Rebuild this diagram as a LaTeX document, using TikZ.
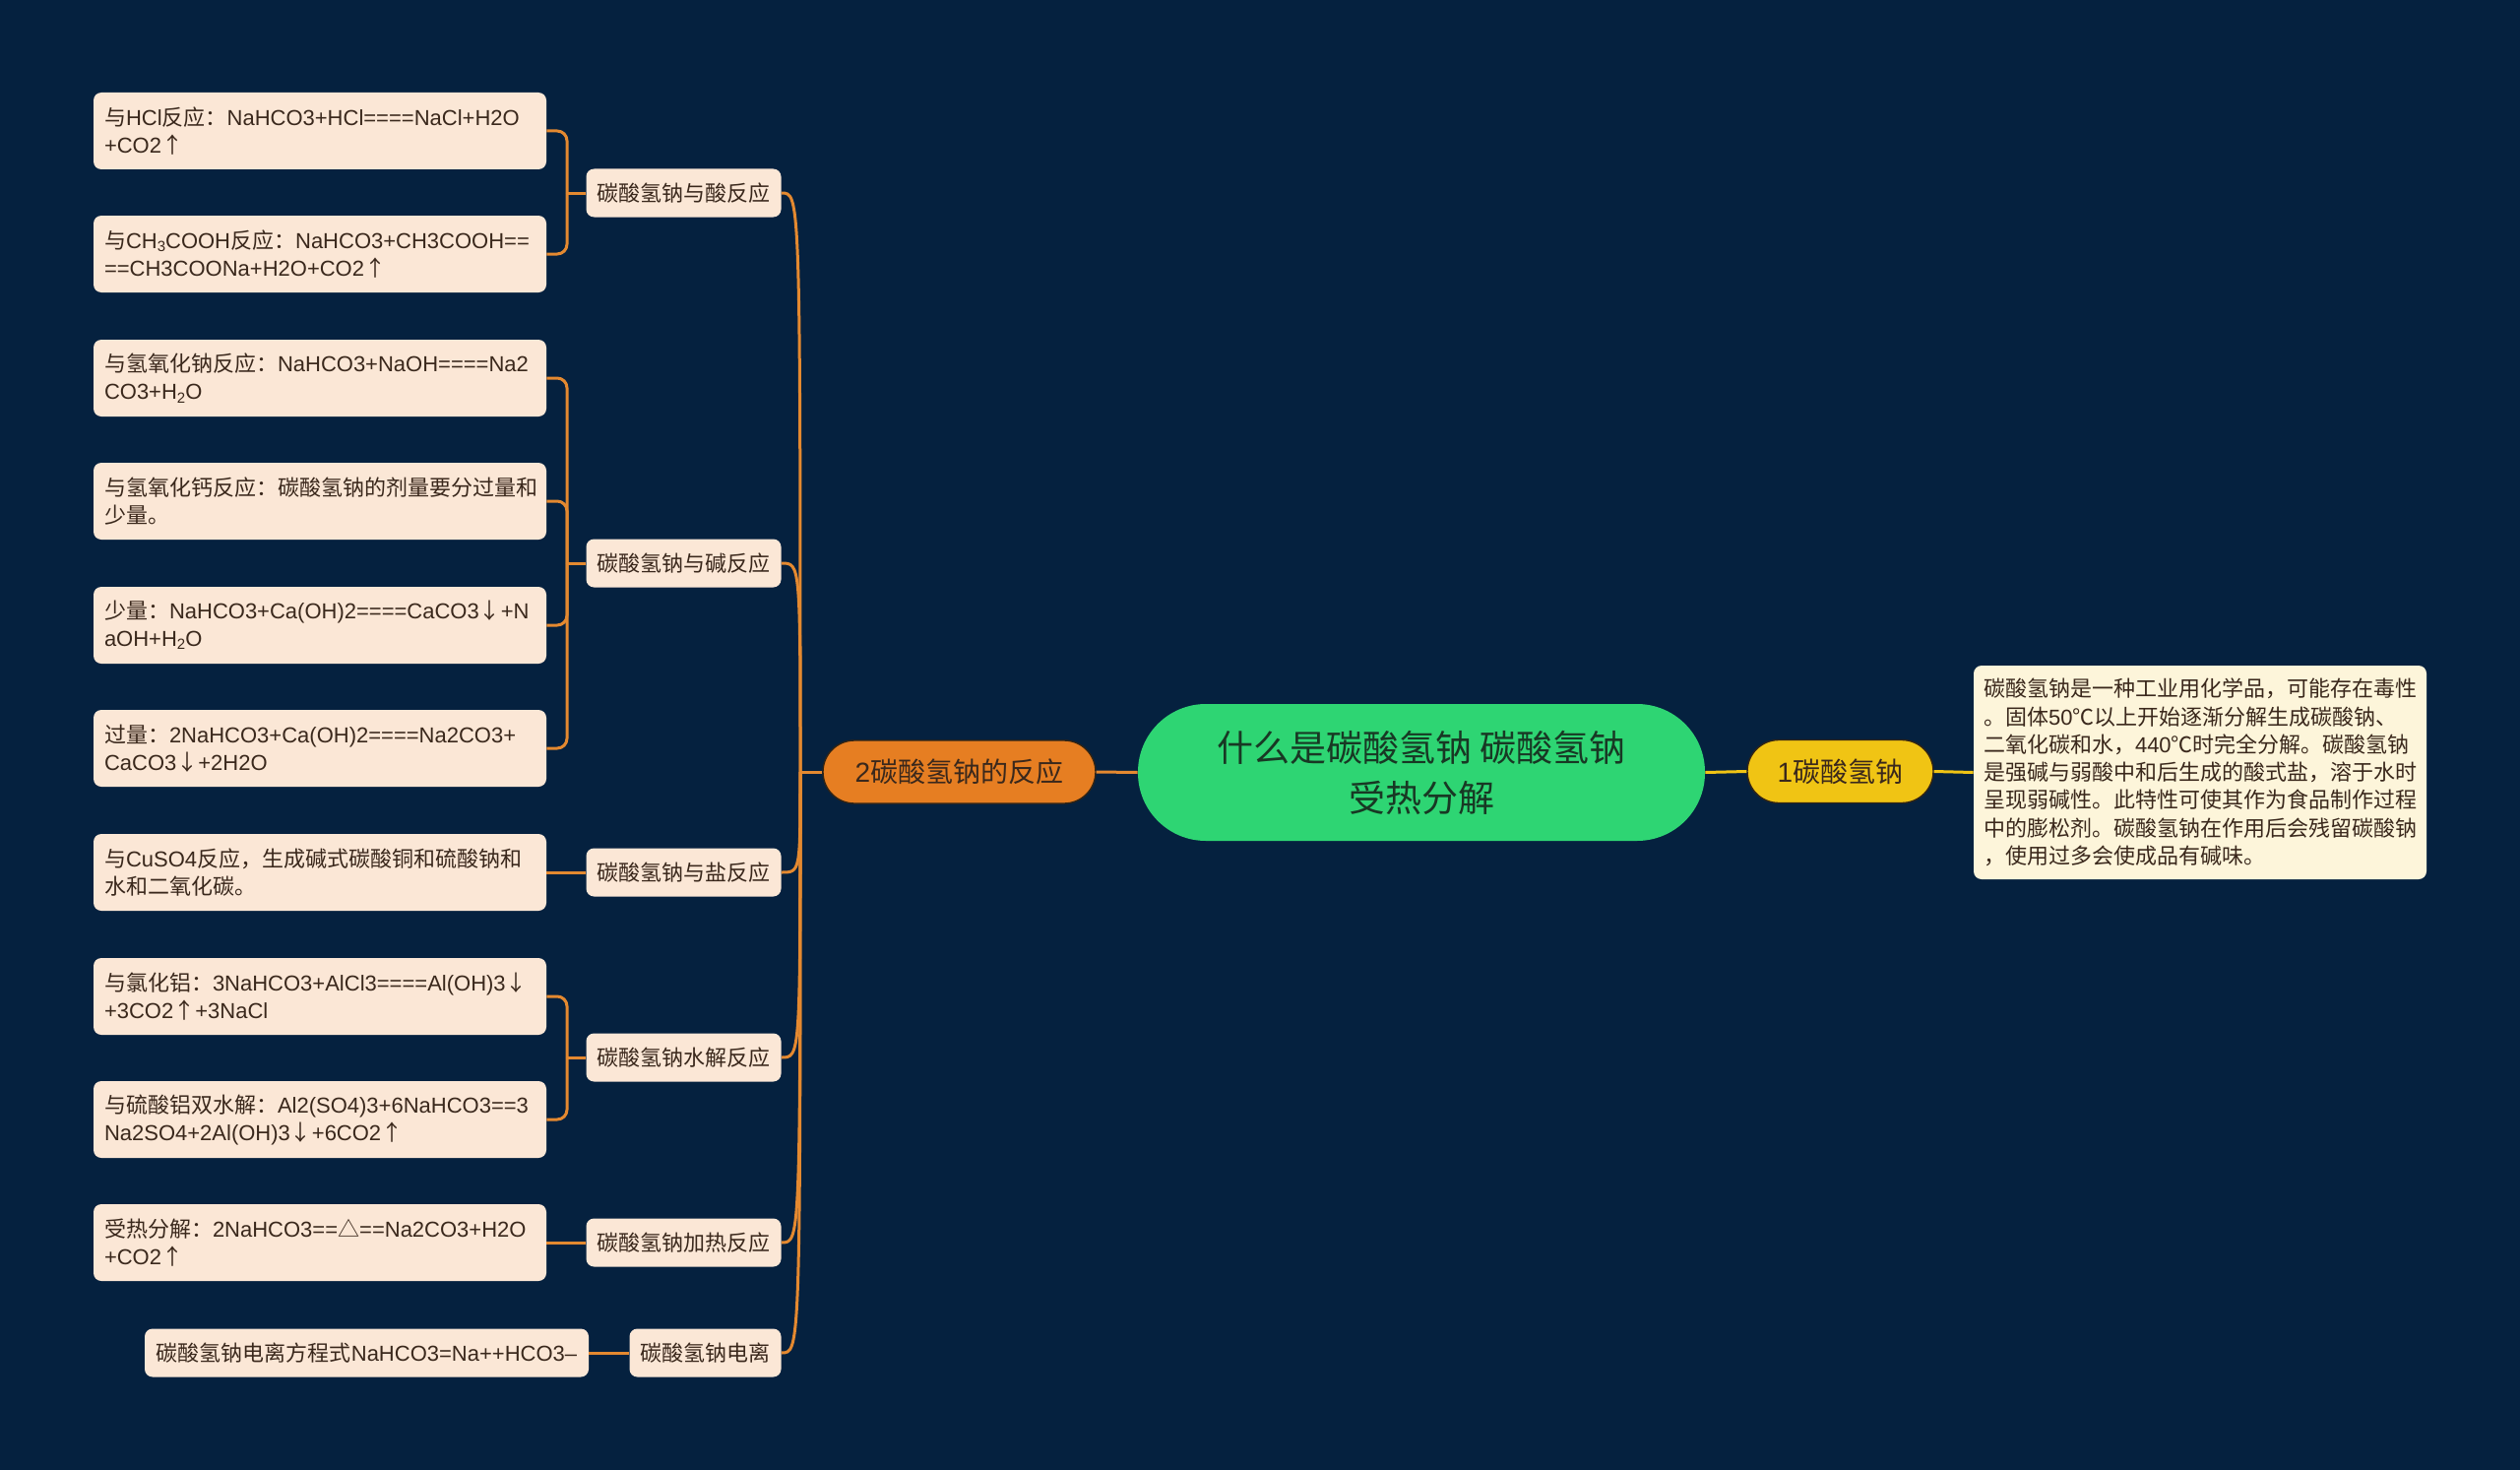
\documentclass[tikz,border=0pt]{standalone}
\usepackage{fontspec}
\setmainfont{Noto Sans CJK SC}
\newfontfamily\latinf{Liberation Sans}
\newfontfamily\cjkf{Noto Sans CJK SC}
\newXeTeXintercharclass\cjkcls
\newcount\mycnt
\def\setcjkrange#1#2{\mycnt=#1\relax\loop\XeTeXcharclass\mycnt=\cjkcls\relax\ifnum\mycnt<#2\relax\advance\mycnt by 1\relax\repeat}
\setcjkrange{"4E00}{"9FFF}
\setcjkrange{"3000}{"303F}
\setcjkrange{"FF00}{"FFEF}
\XeTeXcharclass"2103=\cjkcls
\XeTeXcharclass"2191=\cjkcls
\XeTeXcharclass"2193=\cjkcls
\XeTeXcharclass"25B3=\cjkcls
\XeTeXinterchartoks 0 \cjkcls = {\cjkf}
\XeTeXinterchartoks 4095 \cjkcls = {\cjkf}
\XeTeXinterchartoks \cjkcls 0 = {\latinf}
\XeTeXinterchartoks 4095 0 = {\latinf}
\XeTeXinterchartokenstate=1
\newcommand\mysub[1]{\raisebox{-0.3ex}{\fontsize{7.5}{8}\selectfont #1}}
\definecolor{bgc}{RGB}{5,33,63}
\definecolor{cgreen}{RGB}{46,213,115}
\definecolor{cgtext}{RGB}{24,56,36}
\definecolor{yelc}{RGB}{240,196,20}
\definecolor{orgc}{RGB}{230,126,34}
\definecolor{leafc}{RGB}{251,231,214}
\definecolor{boxc}{RGB}{253,245,218}
\definecolor{txtc}{RGB}{58,40,28}
\definecolor{olc}{RGB}{228,137,48}
\definecolor{ylc}{RGB}{240,196,20}
\definecolor{edgec}{RGB}{50,36,20}
\begin{document}
\begin{tikzpicture}[x=0.5pt,y=-0.5pt,
  central/.style={fill=cgreen, rounded corners=34.5pt, minimum width=288pt, minimum height=69.5pt,
    align=center, font=\fontsize{18.5}{25.5}\selectfont, text=cgtext, inner sep=0pt},
  pill/.style={draw=edgec, line width=0.7pt, rounded corners=16pt, minimum height=32pt,
    font=\fontsize{14}{16}\selectfont, text=txtc, inner sep=0pt},
  yelnode/.style={pill, fill=yelc, minimum width=94.5pt},
  orgnode/.style={pill, fill=orgc, minimum width=138.5pt},
  infobox/.style={fill=boxc, rounded corners=4pt, text=txtc, font=\fontsize{11}{14.15}\selectfont,
    align=left, text width=220pt, inner xsep=5pt, inner ysep=0pt, minimum height=108.5pt},
  leaf/.style={fill=leafc, rounded corners=4pt, text=txtc, font=\fontsize{11}{14}\selectfont,
    align=left, text width=219pt, inner xsep=5.5pt, inner ysep=0pt, minimum height=39pt},
  subn/.style={fill=leafc, rounded corners=4pt, text=txtc, font=\fontsize{11}{14}\selectfont,
    inner xsep=5.5pt, inner ysep=0pt, minimum height=24.5pt},
  oline/.style={draw=olc, line width=1.5pt},
  yline/.style={draw=ylc, line width=1.5pt}
]
\fill[bgc] (0,0) rectangle (2560,1493);
\useasboundingbox (0,0) rectangle (2560,1493);

% main nodes
\node[central] (c) at (1444,784.5) {什么是碳酸氢钠 碳酸氢钠\\受热分解};
\node[yelnode] (y1) at (1869.5,783.5) {1碳酸氢钠};
\node[infobox] (r) at (2235,784.5) {碳酸氢钠是一种工业用化学品，可能存在毒性\\。固体50℃以上开始逐渐分解生成碳酸钠、\\二氧化碳和水，440℃时完全分解。碳酸氢钠\\是强碱与弱酸中和后生成的酸式盐，溶于水时\\呈现弱碱性。此特性可使其作为食品制作过程\\中的膨松剂。碳酸氢钠在作用后会残留碳酸钠\\，使用过多会使成品有碱味。};
\node[orgnode] (o2) at (974.5,784) {2碳酸氢钠的反应};

% sub nodes
\node[subn] (s1) at (694.5,196) {碳酸氢钠与酸反应};
\node[subn] (s2) at (694.5,572) {碳酸氢钠与碱反应};
\node[subn] (s3) at (694.5,886) {碳酸氢钠与盐反应};
\node[subn] (s4) at (694.5,1074) {碳酸氢钠水解反应};
\node[subn] (s5) at (694.5,1262) {碳酸氢钠加热反应};
\node[subn] (s6) at (716.5,1374) {碳酸氢钠电离};

% leaves
\node[leaf] (l1) at (325,133) {与HCl反应：NaHCO3+HCl====NaCl+H2O\\+CO2↑};
\node[leaf] (l2) at (325,258) {与CH\mysub{3}COOH反应：NaHCO3+CH3COOH==\\==CH3COONa+H2O+CO2↑};
\node[leaf] (l3) at (325,384) {与氢氧化钠反应：NaHCO3+NaOH====Na2\\CO3+H\mysub{2}O};
\node[leaf] (l4) at (325,509) {与氢氧化钙反应：碳酸氢钠的剂量要分过量和\\少量。};
\node[leaf] (l5) at (325,635) {少量：NaHCO3+Ca(OH)2====CaCO3↓+N\\aOH+H\mysub{2}O};
\node[leaf] (l6) at (325,760) {过量：2NaHCO3+Ca(OH)2====Na2CO3+\\CaCO3↓+2H2O};
\node[leaf] (l7) at (325,886) {与CuSO4反应，生成碱式碳酸铜和硫酸钠和\\水和二氧化碳。};
\node[leaf] (l8) at (325,1012) {与氯化铝：3NaHCO3+AlCl3====Al(OH)3↓\\+3CO2↑+3NaCl};
\node[leaf] (l9) at (325,1137) {与硫酸铝双水解：Al2(SO4)3+6NaHCO3==3\\Na2SO4+2Al(OH)3↓+6CO2↑};
\node[leaf] (l10) at (325,1262) {受热分解：2NaHCO3==△==Na2CO3+H2O\\+CO2↑};
\node[subn, minimum width=225.5pt] (l11) at (372.5,1374) {碳酸氢钠电离方程式NaHCO3=Na++HCO3–};

% right side connectors
\draw[yline] (c.east) -- (y1.west);
\draw[yline] (y1.east) -- (r.west);

% left main connectors
\coordinate (hub) at (813,784);
\draw[oline] (c.west) -- (o2.east);
\draw[oline] (o2.west) -- (hub);
\foreach \s in {s1,s2,s3,s4,s5,s6}
  \draw[oline] (hub) .. controls (hub |- \s.east) .. (\s.east);

% brackets
\coordinate (j1) at (576,196);
\coordinate (j2) at (576,572);
\coordinate (j4) at (576,1074);
\foreach \l in {l1,l2}
  \draw[oline, rounded corners=5pt] (\l.east) -- (\l.east -| j1) -- (j1);
\draw[oline] (j1) -- (s1.west);
\foreach \l in {l3,l4,l5,l6}
  \draw[oline, rounded corners=5pt] (\l.east) -- (\l.east -| j2) -- (j2);
\draw[oline] (j2) -- (s2.west);
\foreach \l in {l8,l9}
  \draw[oline, rounded corners=5pt] (\l.east) -- (\l.east -| j4) -- (j4);
\draw[oline] (j4) -- (s4.west);
\draw[oline] (l7.east) -- (s3.west);
\draw[oline] (l10.east) -- (s5.west);
\draw[oline] (l11.east) -- (s6.west);
\end{tikzpicture}
\end{document}
